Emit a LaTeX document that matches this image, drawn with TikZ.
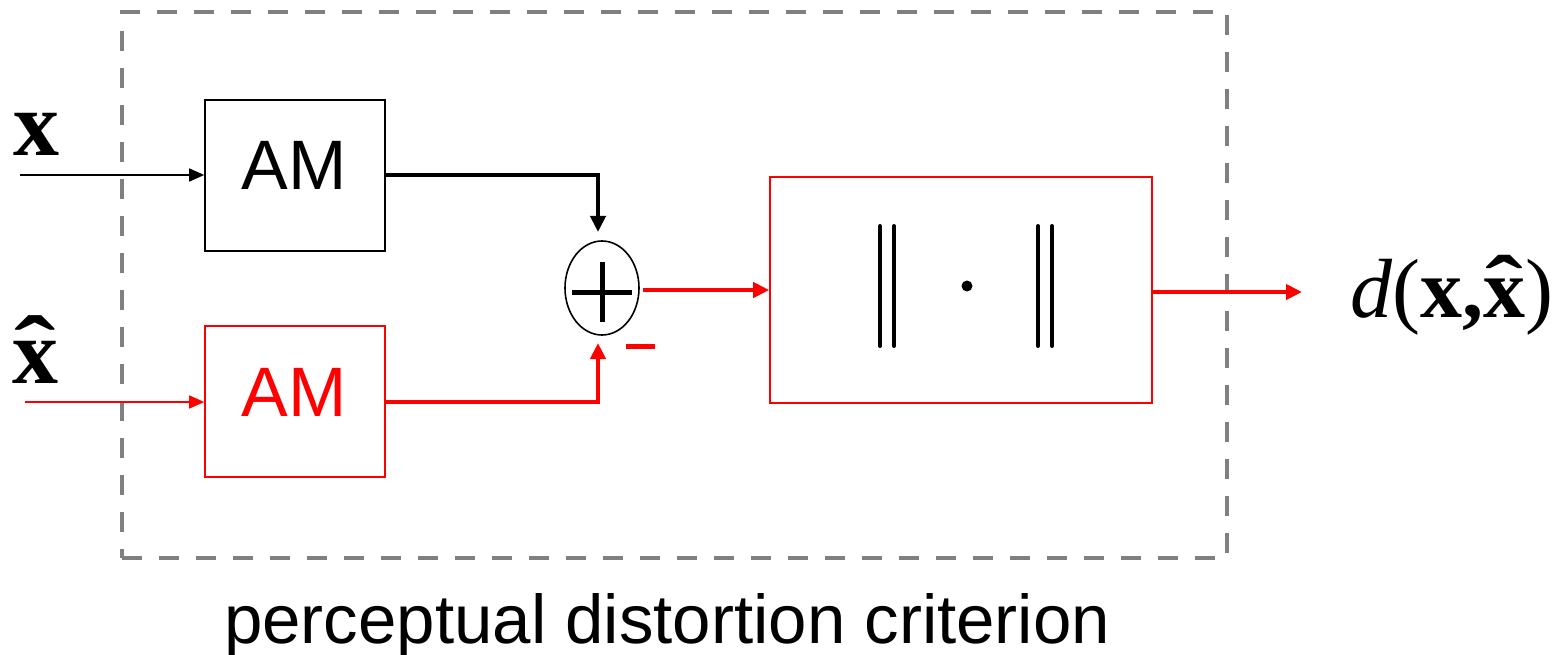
\documentclass[tikz,border=0pt]{standalone}
\usepackage{fontspec}
\setmainfont{Liberation Sans}
\newfontfamily\tnr{Liberation Serif}
\usetikzlibrary{arrows.meta,shapes.geometric}
\definecolor{dgray}{HTML}{808080}
\definecolor{myred}{HTML}{FF0000}
\newcommand\bxh{\ooalign{x\cr\hidewidth\raisebox{0.03em}{\scalebox{1.35}[1]{\char"02C6}}\hidewidth\cr}}
\begin{document}
\begin{tikzpicture}[x=1pt,y=-1pt,
  blk/.style={draw,line width=1.6pt,minimum width=180pt,minimum height=151pt,inner sep=0pt},
  amtext/.style={font=\fontsize{70}{84}\selectfont,anchor=base,inner sep=0pt},
  thin/.style={line width=1.6pt,-{Triangle[length=15pt,width=13pt]}},
  thick/.style={line width=4pt,-{Triangle[length=16pt,width=15pt]}},
  bar/.style={line width=4pt,line cap=round},
  mlabel/.style={font=\tnr\fontsize{92}{100}\selectfont,inner sep=0pt}]
\useasboundingbox (0,0) rectangle (1566,655);
% dashed frame
\node[draw=dgray,line width=4.5pt,dash pattern=on 20pt off 17pt,minimum width=1105pt,minimum height=546pt,inner sep=0pt] (frame) at (674.5,285) {};
% boxes
\node[blk] (am1) at (295,175.5) {};
\node[amtext] (am1t) at (294,190) {AM};
\node[blk,draw=myred] (am2) at (295,401.5) {};
\node[amtext,text=myred] (am2t) at (294,416) {AM};
\node[draw=myred,line width=1.6pt,minimum width=382pt,minimum height=226pt,inner sep=0pt] (norm) at (961,290) {};
% sum
\node[draw,ellipse,line width=1.6pt,minimum width=74pt,minimum height=94pt,inner sep=0pt] (sum) at (602,288) {};
\draw[line width=5pt] (572,292) -- (632,292);
\draw[line width=5pt] (602,262) -- (602,322);
% minus sign
\draw[myred,line width=5pt] (626,346) -- (655,346);
% norm symbol
\draw[bar] (880,226) -- (880,346);
\draw[bar] (894,226) -- (894,346);
\draw[bar] (1038,226) -- (1038,346);
\draw[bar] (1052,226) -- (1052,346);
\fill (967,286) circle (5.5pt);
% inputs
\coordinate (xin) at (20,175);
\coordinate (xhin) at (25,402);
\draw[thin] (xin) -- (am1.west |- xin);
\draw[thin,myred] (xhin) -- (am2.west |- xhin);
\node[mlabel,anchor=base west] (xl) at (13,156) {\textbf{x}};
\node[mlabel,anchor=base west] (xhl) at (12,383) {\textbf{\bxh}};
% connectors
\draw[thick] (am1.east |- 0,175) -| (598,232);
\draw[thick,myred] (am2.east |- 0,402) -| (598,343);
\draw[thick,myred] (643,290) -- (norm.west |- 0,290);
\coordinate (out) at (1302,292);
\draw[thick,myred] (norm.east |- out) -- (out);
\node[mlabel,font=\tnr\fontsize{84}{96}\selectfont,anchor=base west] (dl) at (1350,317) {\textit{d}(\textbf{x,\bxh})};
% caption
\node[font=\fontsize{69}{80}\selectfont,anchor=base west,inner sep=0pt] (cap) at (224,643) {perceptual distortion criterion};
\end{tikzpicture}
\end{document}
